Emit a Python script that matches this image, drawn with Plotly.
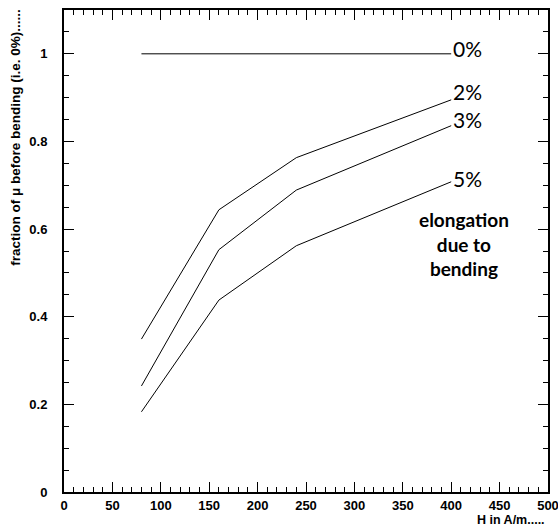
import plotly.graph_objects as go

# Field strength H (A/m) at which permeability was measured
h_values = [80, 160, 240, 400]

# Fraction of the unbent permeability for each elongation due to bending
series_labels = ["0%", "2%", "3%", "5%"]
frac_0 = [1.0, 1.0, 1.0, 1.0]
frac_2 = [0.349, 0.644, 0.763, 0.895]
frac_3 = [0.242, 0.553, 0.689, 0.836]
frac_5 = [0.183, 0.438, 0.562, 0.708]
series_values = [frac_0, frac_2, frac_3, frac_5]
label_lift = [5, 8, 6, 3]

x_ticks = [0, 50, 100, 150, 200, 250, 300, 350, 400, 450, 500]
y_ticks = [0, 0.2, 0.4, 0.6, 0.8, 1]
y_tick_text = ["0", "0.2", "0.4", "0.6", "0.8", "1"]

fig = go.Figure()

for name, vals, lift in zip(series_labels, series_values, label_lift):
    fig.add_trace(go.Scatter(
        x=h_values, y=vals, mode="lines", name=name,
        line=dict(color="black", width=1), showlegend=False,
    ))
    fig.add_annotation(
        x=h_values[-1], y=vals[-1], text=name, showarrow=False,
        xanchor="left", yanchor="middle", xshift=0, yshift=lift,
        font=dict(family="Lato, DejaVu Sans", size=21, color="black"),
    )

fig.add_annotation(
    x=413, y=0.565, text="elongation<br>due to<br>bending", showarrow=False,
    xanchor="center", yanchor="middle",
    font=dict(family="Lato, DejaVu Sans", size=19, color="black", weight="bold"),
)

fig.add_annotation(
    xref="paper", yref="paper", x=-0.101, y=1.006,
    text="fraction of \u03bc before bending (i.e. 0%)......",
    textangle=-90, showarrow=False, xanchor="center", yanchor="top",
    font=dict(family="Liberation Sans, Arial", size=13.5, color="black", weight="bold"),
)

fig.add_annotation(
    xref="paper", yref="paper", x=0.998, y=-0.058,
    text="H in A/m.....", showarrow=False, xanchor="right", yanchor="middle",
    font=dict(family="Liberation Sans, Arial", size=12.5, color="black", weight="bold"),
)

axis_common = dict(
    showgrid=False, zeroline=False, showline=True, linecolor="black",
    linewidth=2, mirror="allticks", ticks="inside", tickcolor="black",
    tickwidth=1, automargin=False, ticklabeloverflow="allow",
    tickfont=dict(family="Liberation Sans, Arial", size=13,
                  color="black", weight="bold"),
)

fig.update_xaxes(
    range=[0, 500], tickvals=x_ticks, ticklen=10,
    minor=dict(dtick=10, ticks="inside", ticklen=5, tickcolor="black", showgrid=False),
    **axis_common,
)
fig.update_yaxes(
    range=[0, 1.1], tickvals=y_ticks, ticktext=y_tick_text, ticklen=10,
    ticklabelstandoff=12,
    minor=dict(dtick=0.05, ticks="inside", ticklen=5, tickcolor="black", showgrid=False),
    **axis_common,
)

fig.update_layout(
    width=558, height=531,
    margin=dict(l=64, r=10, t=10, b=39),
    plot_bgcolor="white", paper_bgcolor="white",
)

fig.write_html("out.html")
